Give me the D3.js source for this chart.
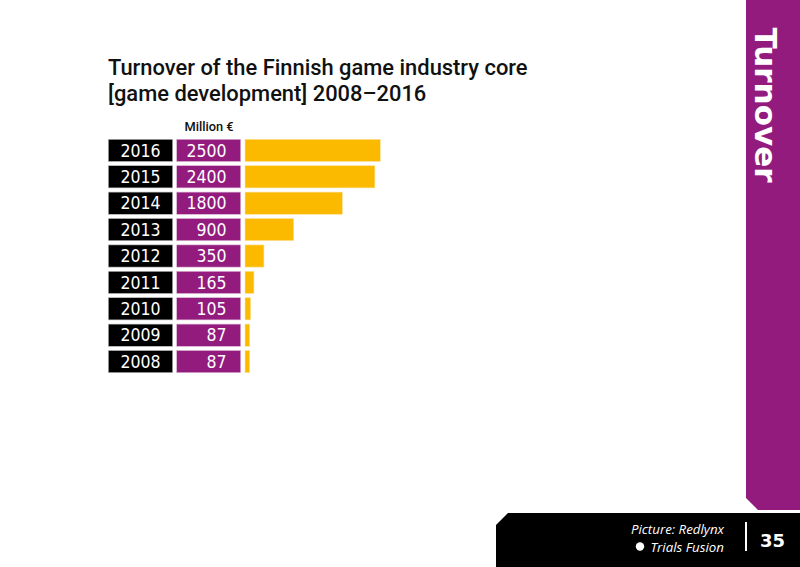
<!DOCTYPE html>
<html>
<head>
<meta charset="utf-8">
<script src="https://cdn.jsdelivr.net/npm/d3@7"></script>
<style>
  body { margin: 0; background: #fff; }
  svg { display: block; }
</style>
</head>
<body>
<div id="chart"></div>
<script>
// chart data
var years = ["2016", "2015", "2014", "2013", "2012", "2011", "2010", "2009", "2008"];
var turnover = [2500, 2400, 1800, 900, 350, 165, 105, 87, 87];
var titleLines = ["Turnover of the Finnish game industry core", "[game development] 2008\u20132016"];
var unitLabel = "Million \u20ac";

var svgWidth = 800;
var svgHeight = 567;

var purple = "#931b7e";
var yellow = "#fbb900";
var rowFont = "'Liberation Sans Narrow', 'DejaVu Sans Condensed', sans-serif";

var svg = d3.select("#chart")
  .append("svg")
  .attr("width", svgWidth)
  .attr("height", svgHeight);

// title
svg.append("g")
  .selectAll("text")
  .data(titleLines)
  .enter()
  .append("text")
  .attr("x", 108)
  .attr("y", (d, i) => 75 + i * 26)
  .style("font-family", "Roboto, sans-serif")
  .style("font-weight", 500)
  .style("font-size", "21.9px")
  .attr("fill", "#111")
  .text(d => d);

svg.append("text")
  .attr("x", 209)
  .attr("y", 131)
  .attr("text-anchor", "middle")
  .style("font-family", "Roboto, sans-serif")
  .style("font-weight", 500)
  .style("font-size", "12.8px")
  .attr("fill", "#111")
  .text(unitLabel);

// scales
var yScale = d3.scaleBand()
  .domain(years)
  .range([139.3, 139.3 + 26.4 * 8 + 22.2])
  .paddingInner(4.2 / 26.4)
  .paddingOuter(0);

var barStart = 245;
var xScale = d3.scaleLinear()
  .domain([0, 2500])
  .range([barStart, 380.3]);

var rows = svg.selectAll("g.row")
  .data(years.map((y, i) => ({ year: y, value: turnover[i] })))
  .enter()
  .append("g")
  .attr("class", "row")
  .attr("transform", d => `translate(0,${yScale(d.year)})`);

var h = yScale.bandwidth();

rows.append("rect")
  .attr("x", 108.3)
  .attr("width", 64.4)
  .attr("height", h)
  .attr("fill", "#000")
  .attr("stroke", "#bbb")
  .attr("stroke-width", 0.6);

rows.append("rect")
  .attr("x", 176.7)
  .attr("width", 64)
  .attr("height", h)
  .attr("fill", purple)
  .attr("stroke", "#d9b8d2")
  .attr("stroke-width", 0.6);

rows.append("rect")
  .attr("x", barStart)
  .attr("width", d => xScale(d.value) - barStart)
  .attr("height", h)
  .attr("fill", yellow)
  .attr("stroke", "#fde3a0")
  .attr("stroke-width", 0.6);

rows.append("text")
  .attr("x", 140.5)
  .attr("y", h / 2 + 6.2)
  .attr("text-anchor", "middle")
  .style("font-family", rowFont)
  .style("font-size", "17.5px")
  .attr("fill", "#fff")
  .text(d => d.year);

rows.append("text")
  .attr("x", 226.5)
  .attr("y", h / 2 + 6.2)
  .attr("text-anchor", "end")
  .style("font-family", rowFont)
  .style("font-size", "17.5px")
  .attr("fill", "#fff")
  .text(d => d.value);

// side tab
svg.append("path")
  .attr("d", "M746,0 L800,0 L800,510 L758,510 L746,498 Z")
  .attr("fill", purple);

svg.append("text")
  .attr("transform", "translate(755,105) rotate(90)")
  .attr("text-anchor", "middle")
  .style("font-family", "'DejaVu Sans', sans-serif")
  .style("font-weight", "bold")
  .style("font-size", "31px")
  .attr("fill", "#fff")
  .text("Turnover");

// footer
svg.append("path")
  .attr("d", "M508,513 L800,513 L800,567 L496,567 L496,525 Z")
  .attr("fill", "#000");

svg.append("text")
  .attr("x", 724)
  .attr("y", 534)
  .attr("text-anchor", "end")
  .style("font-family", "'Open Sans', sans-serif")
  .style("font-style", "italic")
  .style("font-size", "13.3px")
  .attr("fill", "#fff")
  .text("Picture: Redlynx");

svg.append("text")
  .attr("x", 724)
  .attr("y", 551.5)
  .attr("text-anchor", "end")
  .style("font-family", "'Open Sans', sans-serif")
  .style("font-style", "italic")
  .style("font-size", "13.3px")
  .attr("fill", "#fff")
  .text("Trials Fusion");

svg.append("circle")
  .attr("cx", 640)
  .attr("cy", 546.5)
  .attr("r", 4.2)
  .attr("fill", "#fff");

svg.append("line")
  .attr("x1", 746).attr("x2", 746)
  .attr("y1", 522).attr("y2", 551)
  .attr("stroke", "#fff")
  .attr("stroke-width", 2);

svg.append("text")
  .attr("x", 772.5)
  .attr("y", 547)
  .attr("text-anchor", "middle")
  .style("font-family", "'DejaVu Sans', sans-serif")
  .style("font-weight", "bold")
  .style("font-size", "18px")
  .attr("fill", "#fff")
  .text("35");
</script>
</body>
</html>
